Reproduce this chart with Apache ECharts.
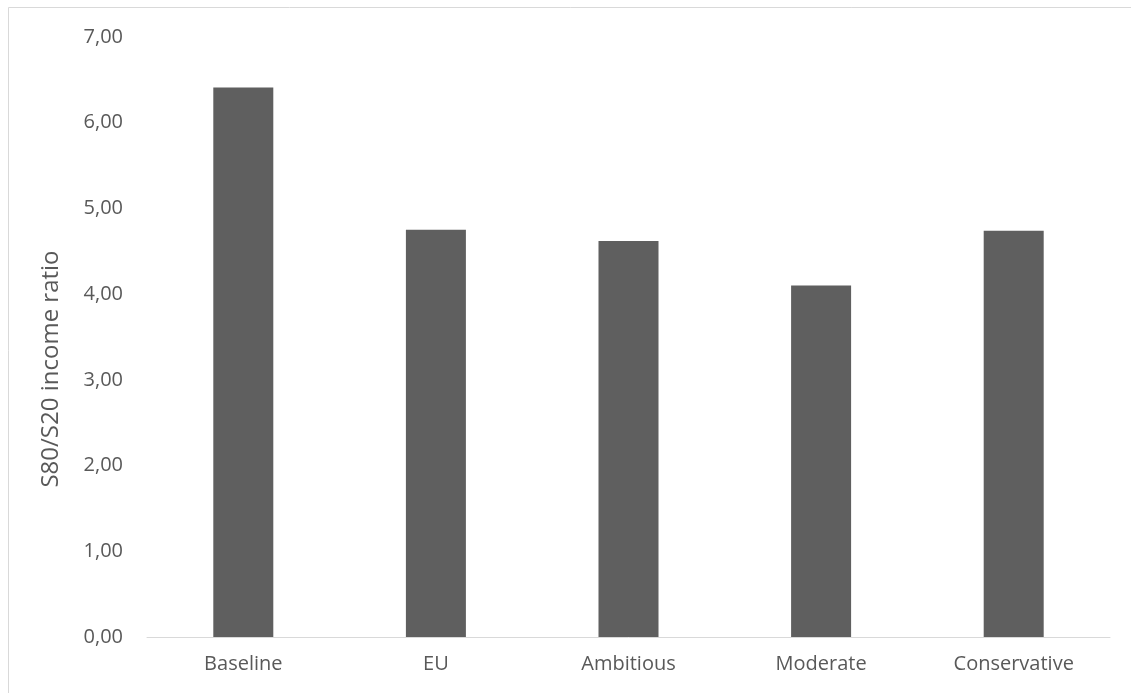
<!DOCTYPE html>
<html><head><meta charset="utf-8">
<script src="https://cdn.jsdelivr.net/npm/echarts@6/dist/echarts.min.js"></script>
<style>html,body{margin:0;padding:0;background:#fff}#c{width:1131px;height:693px}</style>
</head><body><div id="c"></div>
<script>
var categories = ['Baseline', 'EU', 'Ambitious', 'Moderate', 'Conservative'];
var values = [6.41, 4.75, 4.62, 4.10, 4.74];
var yTicks = [0, 1, 2, 3, 4, 5, 6, 7];
var yName = 'S80/S20 income ratio';

var chart = echarts.init(document.getElementById('c'), null, {renderer: 'canvas'});
var font = 'Open Sans';
chart.setOption({
  animation: false,
  backgroundColor: '#fff',
  graphic: [{
    type: 'rect', shape: {x: 8.5, y: 7.5, width: 1200, height: 800},
    style: {fill: 'none', stroke: '#d9d9d9', lineWidth: 1}, silent: true
  }, {
    type: 'text', x: 51, y: 369, rotation: Math.PI / 2, silent: true,
    style: {text: yName, fill: '#595959', font: '24px "Open Sans"',
      textAlign: 'center', textVerticalAlign: 'middle'}
  }],
  grid: {left: 147, right: 21, top: 37, bottom: 56, containLabel: false},
  xAxis: {
    type: 'category', data: categories,
    axisLine: {show: true, lineStyle: {color: '#d9d9d9', width: 1}},
    axisTick: {show: false},
    axisLabel: {color: '#595959', fontFamily: font, fontSize: 20, margin: 17}
  },
  yAxis: {
    type: 'value', min: yTicks[0], max: yTicks[yTicks.length - 1], interval: 1,
    axisLine: {show: false}, axisTick: {show: false},
    splitLine: {show: false},
    axisLabel: {color: '#595959', fontFamily: font, fontSize: 20, margin: 24,
      formatter: function (v) { return v.toFixed(2).replace('.', ','); }}
  },
  series: [{
    type: 'bar', data: values, barWidth: 60,
    itemStyle: {color: '#5f5f5f'}
  }]
});
</script></body></html>
